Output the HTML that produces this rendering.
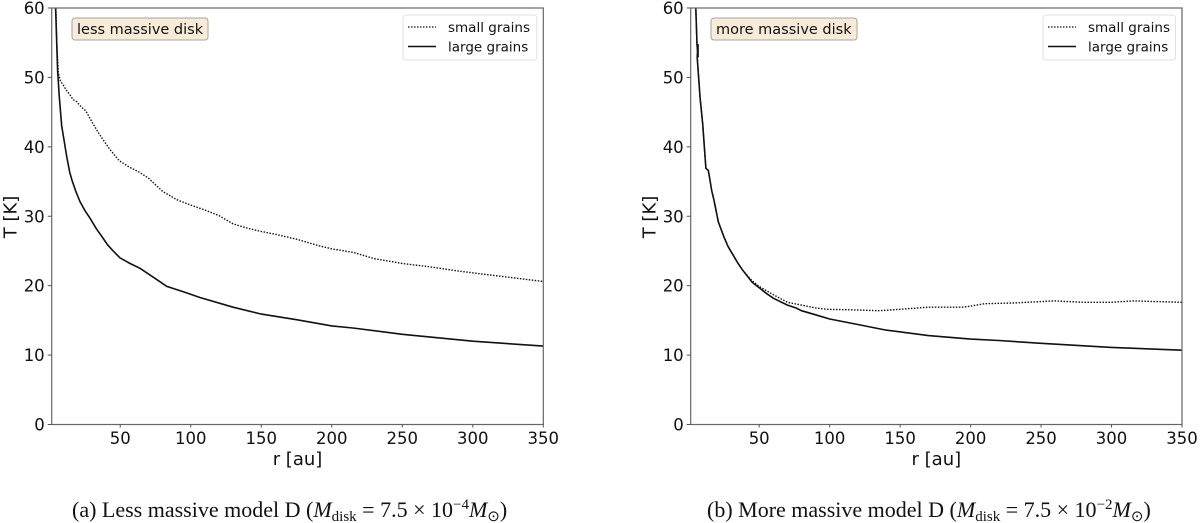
<!DOCTYPE html>
<html lang="en">
<head>
<meta charset="utf-8">
<title>Temperature profiles for model D</title>
<style>
html,body{margin:0;padding:0;background:#fff;width:1200px;height:523px;overflow:hidden}
svg{display:block}
.tick{font:16.5px "DejaVu Sans",sans-serif;fill:#111}
.axis-title{font:18px "DejaVu Sans",sans-serif;fill:#111}
.legend-text,.note-text{font:13.5px "DejaVu Sans",sans-serif;fill:#111}
.note-text{font-size:14.5px}
.caption{font:22px "Liberation Serif",serif;fill:#111}
</style>
</head>
<body>
<svg id="chart" width="1200" height="523" viewBox="0 0 1200 523" xmlns="http://www.w3.org/2000/svg">
<text class="caption" x="72" y="517">(a) Less massive model D (<tspan font-style="italic">M</tspan><tspan font-size="15" dy="4">disk</tspan><tspan dy="-4"> = 7.5 × 10</tspan><tspan font-size="15" dy="-8">−4</tspan><tspan font-style="italic" dy="8">M</tspan><tspan font-size="15" dy="4">⊙</tspan><tspan dy="-4">)</tspan></text>
<text class="caption" x="707" y="517">(b) More massive model D (<tspan font-style="italic">M</tspan><tspan font-size="15" dy="4">disk</tspan><tspan dy="-4"> = 7.5 × 10</tspan><tspan font-size="15" dy="-8">−2</tspan><tspan font-style="italic" dy="8">M</tspan><tspan font-size="15" dy="4">⊙</tspan><tspan dy="-4">)</tspan></text>
</svg>
<script>
const xTicks = [50, 100, 150, 200, 250, 300, 350];
const yTicks = [0, 10, 20, 30, 40, 50, 60];
const seriesNames = ['small grains', 'large grains'];

const leftSmallR = [4.4, 5.1, 6.1, 7.6, 9.6, 11.6, 14.4, 16.6, 19.1, 22.6, 25.5, 30.5, 35.5, 42.4, 49.3, 56.3, 63, 70, 80, 90, 100, 110, 120, 130, 140, 150, 160, 175, 190, 200, 215, 230, 250, 270, 290, 310, 330, 350];
const leftSmallT = [60, 54.5, 50.7, 49.5, 48.9, 48.2, 47.5, 46.8, 46.5, 45.7, 45.2, 43.4, 41.7, 39.7, 38, 37.1, 36.4, 35.5, 33.6, 32.4, 31.6, 30.9, 30.1, 28.9, 28.3, 27.8, 27.4, 26.7, 25.8, 25.3, 24.8, 23.9, 23.2, 22.7, 22.1, 21.6, 21.1, 20.6];
const leftLargeR = [4.2, 5.6, 6.8, 8.5, 10.1, 12, 14.1, 15.8, 18.5, 21.5, 25, 28.6, 33, 36.9, 41, 45, 49.8, 57, 64, 75, 83, 95, 106.5, 130, 150, 175, 200, 215, 250, 300, 350];
const leftLargeT = [60, 51, 47.2, 43, 41, 38.7, 36.4, 35.2, 33.6, 32.1, 30.8, 29.7, 28.2, 27.1, 25.9, 25, 24, 23.2, 22.5, 21, 19.9, 19.1, 18.3, 16.9, 15.9, 15.1, 14.2, 13.9, 13, 12, 11.3];

const rightSmallR = [5, 5.9, 6.6, 6.6, 6, 8, 9.9, 12.2, 13.9, 15.1, 16.3, 17.9, 21, 25, 28, 35, 38, 45, 50, 60, 70, 80, 90, 98, 120, 135, 150, 170, 195, 210, 230, 260, 280, 300, 315, 350];
const rightSmallT = [60, 54.8, 52.9, 54.8, 52.9, 47.2, 43.3, 36.9, 36.6, 35.2, 33.7, 32.3, 29.2, 27, 25.6, 23.2, 22.3, 20.7, 19.9, 18.7, 17.6, 17.2, 16.8, 16.6, 16.5, 16.4, 16.6, 16.9, 16.9, 17.4, 17.5, 17.8, 17.6, 17.6, 17.8, 17.6];
const rightLargeR = [5, 5.9, 6.6, 6.6, 6, 8, 9.9, 12.2, 13.9, 15.1, 16.3, 17.9, 21, 25, 28, 35, 38, 45, 50, 55, 60, 70, 76, 80, 90, 100, 120, 140, 170, 200, 220, 250, 300, 350];
const rightLargeT = [60, 54.8, 52.9, 54.8, 52.9, 47.2, 43.3, 36.9, 36.6, 35.2, 33.7, 32.3, 29.2, 27, 25.6, 23.2, 22.3, 20.5, 19.7, 18.9, 18.2, 17.2, 16.8, 16.4, 15.8, 15.2, 14.4, 13.6, 12.8, 12.3, 12.1, 11.7, 11.1, 10.7];

const svg = document.getElementById('chart');
const NS = 'http://www.w3.org/2000/svg';
const X_MIN = 1.4, X_MAX = 350, Y_MIN = 0, Y_MAX = 60;
const TOP = 8, BOTTOM = 424.5;

function mk(tag, attrs, text) {
  const el = document.createElementNS(NS, tag);
  for (const k in attrs) el.setAttribute(k, attrs[k]);
  if (text !== undefined) el.textContent = text;
  svg.appendChild(el);
  return el;
}

function drawPanel(p, left, right, smallR, smallT, largeR, largeT, noteText, noteBox, legendX) {
  const sx = r => left + (r - X_MIN) / (X_MAX - X_MIN) * (right - left);
  const sy = t => BOTTOM - (t - Y_MIN) / (Y_MAX - Y_MIN) * (BOTTOM - TOP);

  const clipId = 'clip-' + p;
  const defs = mk('defs', {});
  const clip = document.createElementNS(NS, 'clipPath');
  clip.setAttribute('id', clipId);
  const clipRect = document.createElementNS(NS, 'rect');
  clipRect.setAttribute('x', left);
  clipRect.setAttribute('y', TOP);
  clipRect.setAttribute('width', right - left);
  clipRect.setAttribute('height', BOTTOM - TOP);
  clip.appendChild(clipRect);
  defs.appendChild(clip);

  const ptsOf = (rs, ts) => rs.map((r, i) => sx(r).toFixed(1) + ',' + sy(ts[i]).toFixed(1)).join(' ');

  const small = mk('polyline', {points: ptsOf(smallR, smallT), fill: 'none', stroke: '#111', 'stroke-width': 1.4, 'stroke-dasharray': '1.5 1.5', 'clip-path': 'url(#' + clipId + ')'});
  
  
  const large = mk('polyline', {points: ptsOf(largeR, largeT), fill: 'none', stroke: '#111', 'stroke-width': 1.6, 'clip-path': 'url(#' + clipId + ')'});
  
  

  const frame = mk('rect', {x: left, y: TOP, width: right - left, height: BOTTOM - TOP, fill: 'none', stroke: '#666', 'stroke-width': 1.2});
  
  

  xTicks.forEach(v => {
    const tick = mk('line', {x1: sx(v), x2: sx(v), y1: BOTTOM, y2: BOTTOM + 3, stroke: '#555', 'stroke-width': 1});
    
    
    const label = mk('text', {class: 'tick', x: sx(v), y: 444, 'text-anchor': 'middle'}, v);
    
    
  });
  yTicks.forEach(v => {
    const tick = mk('line', {x1: left - 4, x2: left, y1: sy(v), y2: sy(v), stroke: '#555', 'stroke-width': 1});
    
    
    const label = mk('text', {class: 'tick', x: left - 7, y: sy(v) + 6, 'text-anchor': 'end'}, v);
    
    
  });

  const xTitle = mk('text', {class: 'axis-title', x: (left + right) / 2, y: 465, 'text-anchor': 'middle'}, 'r [au]');
  
  
  const yx = left - 35.3;
  const yTitle = mk('text', {class: 'axis-title', x: yx, y: 217, 'text-anchor': 'middle', transform: 'rotate(-90 ' + yx + ' 217)'}, 'T [K]');
  
  

  const note = mk('rect', {x: noteBox[0], y: 18, width: noteBox[1], height: 22, rx: 3, fill: '#f8ecd9', stroke: '#aaa59b', 'stroke-width': 1});
  
  
  const noteLabel = mk('text', {class: 'note-text', x: noteBox[0] + 5, y: 34}, noteText);
  
  

  const legend = mk('rect', {x: legendX, y: 15, width: right - legendX - 6.5, height: 45, rx: 3, fill: '#fff', stroke: '#e2e2e2', 'stroke-width': 1});
  
  
  seriesNames.forEach((name, i) => {
    const yy = 27 + i * 19.5;
    const handleAttrs = {x1: legendX + 5, x2: legendX + 33, y1: yy, y2: yy, stroke: '#111', 'stroke-width': i ? 1.6 : 1.3};
    if (i === 0) handleAttrs['stroke-dasharray'] = '1.5 1.5';
    const handle = mk('line', handleAttrs);
    
    
    const label = mk('text', {class: 'legend-text', x: legendX + 45, y: yy + 5}, name);
    
    
  });
}

drawPanel('left', 51.7, 543.3, leftSmallR, leftSmallT, leftLargeR, leftLargeT, 'less massive disk', [72, 136], 403);
drawPanel('right', 690.7, 1182, rightSmallR, rightSmallT, rightLargeR, rightLargeT, 'more massive disk', [711, 146], 1043);
</script>
</body>
</html>
